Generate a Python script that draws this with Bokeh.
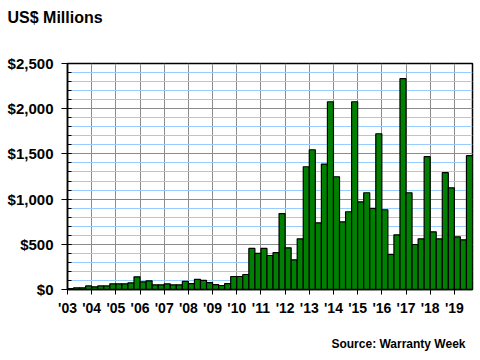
from bokeh.plotting import figure
from bokeh.models import Range1d, FixedTicker, SingleIntervalTicker, NumeralTickFormatter, Title, ColumnDataSource
from bokeh.embed import file_html
from bokeh.resources import INLINE

# Year labels (one per 4 quarters, starting 2003 Q1)
year_labels = ["'03", "'04", "'05", "'06", "'07", "'08", "'09", "'10", "'11",
               "'12", "'13", "'14", "'15", "'16", "'17", "'18", "'19"]

# Quarterly values, US$ millions, 2003 Q1 .. 2019 Q3
q_2003_2006 = [10, 18, 18, 40, 30, 40, 40, 63, 63, 63, 74, 140, 85, 96, 52, 52]
q_2007_2010 = [63, 52, 52, 89, 66, 111, 100, 77, 55, 44, 66, 144, 144, 166, 454, 399]
q_2011_2014 = [454, 376, 408, 840, 461, 328, 561, 1358, 1546, 738, 1387, 2077, 1247, 749, 860, 2077]
q_2015_2019 = [970, 1070, 897, 1723, 882, 387, 605, 2332, 1070, 498, 561, 1469,
               638, 561, 1292, 1125, 583, 550, 1480]

values = q_2003_2006 + q_2007_2010 + q_2011_2014 + q_2015_2019
n = len(values)
xs = [i + 0.5 for i in range(n)]
year_ticks = [4 * i for i in range(len(year_labels))]

src = ColumnDataSource(dict(x=xs, top=values))

FONT = "Liberation Sans"

p = figure(width=474, height=360, output_backend="svg", toolbar_location=None,
           x_range=Range1d(0, n), y_range=Range1d(0, 2500),
           min_border_left=67, min_border_right=2, min_border_top=63, min_border_bottom=71)

p.vbar(x="x", top="top", width=1, source=src, fill_color="#008000",
       line_color="black", line_width=1.2)

# Axes
p.xaxis.ticker = FixedTicker(ticks=year_ticks)
p.xaxis.major_label_overrides = {t: l for t, l in zip(year_ticks, year_labels)}
p.xaxis.major_tick_out = 5
p.xaxis.major_tick_in = 0
p.xaxis.minor_tick_out = 0
p.xaxis.major_label_standoff = 5
p.xaxis.major_label_text_font = FONT
p.xaxis.major_label_text_font_style = "bold"
p.xaxis.major_label_text_font_size = "14px"
p.xaxis.major_label_text_color = "black"
p.xaxis.axis_line_color = "black"
p.xaxis.axis_line_width = 1.5

p.yaxis.ticker = SingleIntervalTicker(interval=500, num_minor_ticks=5)
p.yaxis.formatter = NumeralTickFormatter(format="$0,0")
p.yaxis.major_tick_out = 6
p.yaxis.major_tick_in = 4
p.yaxis.minor_tick_in = 4
p.yaxis.minor_tick_out = 0
p.yaxis.major_label_standoff = 8
p.yaxis.major_label_text_font = FONT
p.yaxis.major_label_text_font_style = "bold"
p.yaxis.major_label_text_font_size = "15px"
p.yaxis.major_label_text_color = "black"
p.yaxis.axis_line_color = "black"
p.yaxis.axis_line_width = 1.5

# Grid
p.xgrid.ticker = FixedTicker(ticks=year_ticks)
p.xgrid.grid_line_color = "#8c8c8c"
p.xgrid.grid_line_width = 1
p.ygrid.ticker = SingleIntervalTicker(interval=500, num_minor_ticks=5)
p.ygrid.grid_line_color = "#8c8c8c"
p.ygrid.grid_line_width = 1
p.ygrid.minor_grid_line_color = "#99ccff"
p.ygrid.minor_grid_line_width = 1

p.outline_line_color = "black"
p.outline_line_width = 1.5
p.background_fill_color = "white"
p.border_fill_color = "white"

# spacer above the frame, then the heading
p.add_layout(Title(text=" ", standoff=35, text_font_size="1px"), "above")
p.add_layout(Title(text="US$ Millions", align="left", offset=-60, standoff=0,
                   text_font=FONT, text_font_style="bold", text_font_size="16px",
                   text_color="black"), "above")
# spacer below the x axis, then the source note
p.add_layout(Title(text=" ", standoff=13, text_font_size="1px"), "below")
p.add_layout(Title(text="Source: Warranty Week", align="right", offset=7, standoff=0,
                   text_font=FONT, text_font_style="bold", text_font_size="12px",
                   text_color="black"), "below")

open("out.html", "w").write(file_html(p, INLINE))
